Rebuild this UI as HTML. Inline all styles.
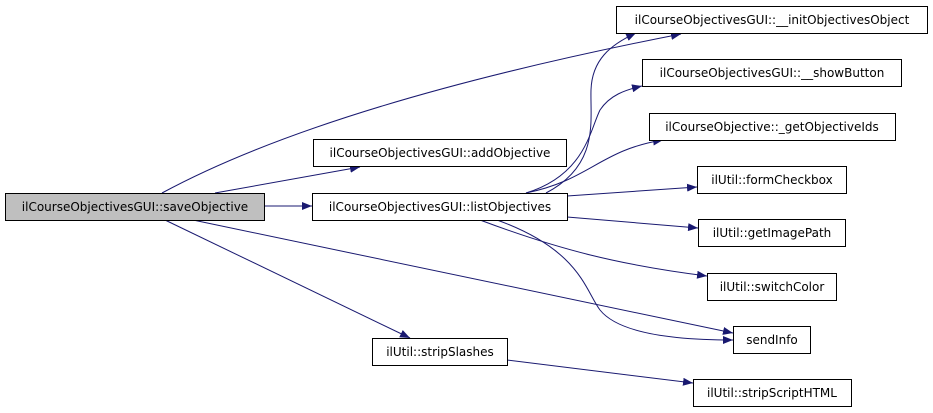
<!DOCTYPE html>
<html><head><meta charset="utf-8"><style>
html,body{margin:0;padding:0;background:#fff;}
svg{display:block;}
text{font-family:"DejaVu Sans","Liberation Sans",sans-serif;font-size:12px;fill:#000;}
</style></head><body>
<svg width="933" height="413" viewBox="0 0 933 413" xmlns="http://www.w3.org/2000/svg">
<defs>
<marker id="a" markerWidth="10" markerHeight="8" refX="10" refY="4" orient="auto" markerUnits="userSpaceOnUse">
<path d="M0,0 L10,4 L0,8 Z" fill="#191970"/>
</marker>
</defs>
<g fill="none" stroke="#191970" stroke-width="1" marker-end="url(#a)">
<path d="M162,193 C260,140 420,85 681,34"/>
<path d="M215,193 L360,167"/>
<path d="M264,206 L312,206"/>
<path d="M193,220 L733,333"/>
<path d="M165,220 L410,338"/>
<path d="M546,193 C600,165 590,120 591,90 C592,60 610,45 636,33"/>
<path d="M526,193 C585,175 590,130 600,110 C610,95 625,90 642,86"/>
<path d="M526,193 C590,180 600,150 663,140"/>
<path d="M567,196 L697,187"/>
<path d="M567,217 L698,228"/>
<path d="M480,220 C560,250 620,265 707,276"/>
<path d="M497,220 C580,250 585,290 600,310 C620,335 680,340 733,340"/>
<path d="M507,360 L693,383"/>
</g>
<g stroke="#000" stroke-width="1">
<rect x="5.5" y="193.5" width="259" height="27" fill="#bfbfbf"/>
<rect x="313.5" y="139.5" width="253" height="27" fill="#fff"/>
<rect x="312.5" y="193.5" width="255" height="27" fill="#fff"/>
<rect x="372.5" y="338.5" width="135" height="27" fill="#fff"/>
<rect x="616.5" y="6.5" width="311" height="27" fill="#fff"/>
<rect x="642.5" y="59.5" width="259" height="27" fill="#fff"/>
<rect x="649.5" y="113.5" width="246" height="27" fill="#fff"/>
<rect x="697.5" y="166.5" width="149" height="27" fill="#fff"/>
<rect x="698.5" y="219.5" width="147" height="27" fill="#fff"/>
<rect x="707.5" y="273.5" width="129" height="27" fill="#fff"/>
<rect x="733.5" y="326.5" width="77" height="27" fill="#fff"/>
<rect x="693.5" y="379.5" width="158" height="27" fill="#fff"/>
</g>
<g text-anchor="middle">
<text x="135" y="211">ilCourseObjectivesGUI::saveObjective</text>
<text x="440" y="157">ilCourseObjectivesGUI::addObjective</text>
<text x="440" y="211">ilCourseObjectivesGUI::listObjectives</text>
<text x="440" y="356">ilUtil::stripSlashes</text>
<text x="772" y="24">ilCourseObjectivesGUI::__initObjectivesObject</text>
<text x="772" y="77">ilCourseObjectivesGUI::__showButton</text>
<text x="772" y="131">ilCourseObjective::_getObjectiveIds</text>
<text x="772" y="184">ilUtil::formCheckbox</text>
<text x="772" y="237">ilUtil::getImagePath</text>
<text x="772" y="291">ilUtil::switchColor</text>
<text x="772" y="344">sendInfo</text>
<text x="772" y="397">ilUtil::stripScriptHTML</text>
</g>
</svg>
</body></html>
